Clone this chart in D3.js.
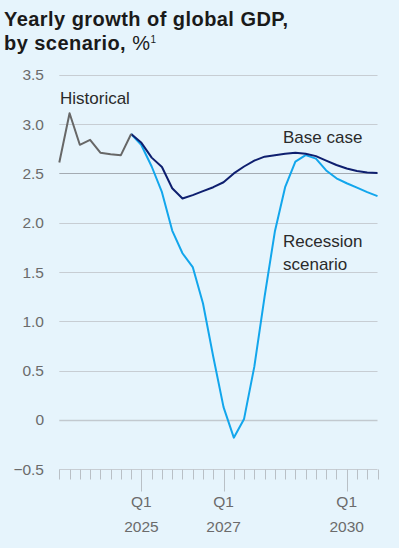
<!DOCTYPE html>
<html><head><meta charset="utf-8">
<script src="https://cdn.jsdelivr.net/npm/d3@7"></script>
<style>
html,body{margin:0;padding:0;background:#e6f4fc;}
svg{display:block;}
</style></head>
<body>
<svg id="c" width="399" height="548"></svg>
<script>
// quarters from Q1 2023 (index 0) to Q4 2030 (index 31)
const quarterCount = 32;
const historical = [2.61, 3.11, 2.79, 2.84, 2.71, 2.695, 2.685, 2.90];
const baseCase = [2.90, 2.81, 2.66, 2.565, 2.35, 2.245, 2.28, 2.32, 2.36, 2.41, 2.50, 2.57, 2.63,
  2.67, 2.685, 2.70, 2.71, 2.70, 2.675, 2.63, 2.585, 2.55, 2.525, 2.51, 2.505];
const recession = [2.90, 2.786, 2.57, 2.31, 1.92, 1.69, 1.55, 1.18, 0.64, 0.13, -0.18, 0.01, 0.54, 1.25,
  1.91, 2.36, 2.62, 2.685, 2.65, 2.53, 2.45, 2.40, 2.355, 2.31, 2.27];
const forecastStart = 7;
const yTicks = [-0.5, 0, 0.5, 1.0, 1.5, 2.0, 2.5, 3.0, 3.5];
const xMajor = [{i: 8, q: "Q1", y: "2025"}, {i: 16, q: "Q1", y: "2027"}, {i: 28, q: "Q1", y: "2030"}];

const svg = d3.select("#c");
const font = "'Liberation Sans', Arial, sans-serif";
const x = d3.scaleLinear().domain([0, quarterCount - 1]).range([59.3, 377.5]);
const y = d3.scaleLinear().domain([-0.5, 3.5]).range([469.2, 74.8]);

// title
const t = svg.append("text").attr("font-family", font).attr("fill", "#1a1a1a").attr("font-size", 20)
  .attr("letter-spacing", 0.45);
t.append("tspan").attr("x", 4).attr("y", 26).attr("font-weight", "bold").text("Yearly growth of global GDP,");
const t2 = t.append("tspan").attr("x", 4).attr("y", 50);
t2.append("tspan").attr("font-weight", "bold").text("by scenario, ");
t2.append("tspan").attr("font-weight", "normal").text("%");
t2.append("tspan").attr("font-size", 10).attr("dy", -7).text("1");

// grid
const g = svg.append("g");
g.selectAll("line.grid").data(yTicks).join("line")
  .attr("x1", x(0)).attr("x2", x(quarterCount - 1))
  .attr("y1", d => Math.round(y(d)) + 0.5).attr("y2", d => Math.round(y(d)) + 0.5)
  .attr("stroke", d => d === 2.5 ? "#a4abb2" : (d === 0 ? "#c2c9cf" : "#c7cdd3"))
  .attr("stroke-width", d => d === 0 ? 1.5 : 1);

g.selectAll("text.yl").data(yTicks).join("text")
  .attr("x", 44).attr("y", d => y(d) + 5.5).attr("text-anchor", "end")
  .attr("font-family", font).attr("font-size", 15.5).attr("fill", "#6b6b6b")
  .text(d => d < 0 ? "\u2212" + Math.abs(d).toFixed(1) : (d === 0 ? "0" : d.toFixed(1)));

// x axis ticks
const majorIdx = xMajor.map(d => d.i);
const axisY = Math.round(y(-0.5)) + 0.5;
g.selectAll("line.tk").data(d3.range(quarterCount)).join("line")
  .attr("x1", d => Math.round(x(d)) + 0.5).attr("x2", d => Math.round(x(d)) + 0.5)
  .attr("y1", axisY).attr("y2", d => axisY + (majorIdx.includes(d) ? 22 : 10))
  .attr("stroke", "#b9c0c6").attr("stroke-width", 1);

const xl = g.selectAll("g.xl").data(xMajor).join("g");
xl.append("text").attr("x", d => x(d.i)).attr("y", 507).attr("text-anchor", "middle")
  .attr("font-family", font).attr("font-size", 15.5).attr("fill", "#6b6b6b").text(d => d.q);
xl.append("text").attr("x", d => x(d.i)).attr("y", 532).attr("text-anchor", "middle")
  .attr("font-family", font).attr("font-size", 15.5).attr("fill", "#6b6b6b").text(d => d.y);

// lines
const line = (offset) => d3.line().x((d, i) => x(i + offset)).y(d => y(d));
svg.append("path").attr("d", line(forecastStart)(recession)).attr("fill", "none")
  .attr("stroke", "#12a6ec").attr("stroke-width", 2).attr("stroke-linejoin", "round");
svg.append("path").attr("d", line(forecastStart)(baseCase)).attr("fill", "none")
  .attr("stroke", "#0e1f6f").attr("stroke-width", 2).attr("stroke-linejoin", "round");
svg.append("path").attr("d", line(0)(historical)).attr("fill", "none")
  .attr("stroke", "#676767").attr("stroke-width", 2).attr("stroke-linejoin", "round");

// annotations
const ann = (tx, ty, s) => svg.append("text").attr("x", tx).attr("y", ty)
  .attr("font-family", font).attr("font-size", 17).attr("fill", "#2a2a2a").text(s);
ann(60, 104, "Historical");
ann(283, 143, "Base case");
ann(283, 247, "Recession");
ann(283, 270, "scenario");
</script>
</body></html>
